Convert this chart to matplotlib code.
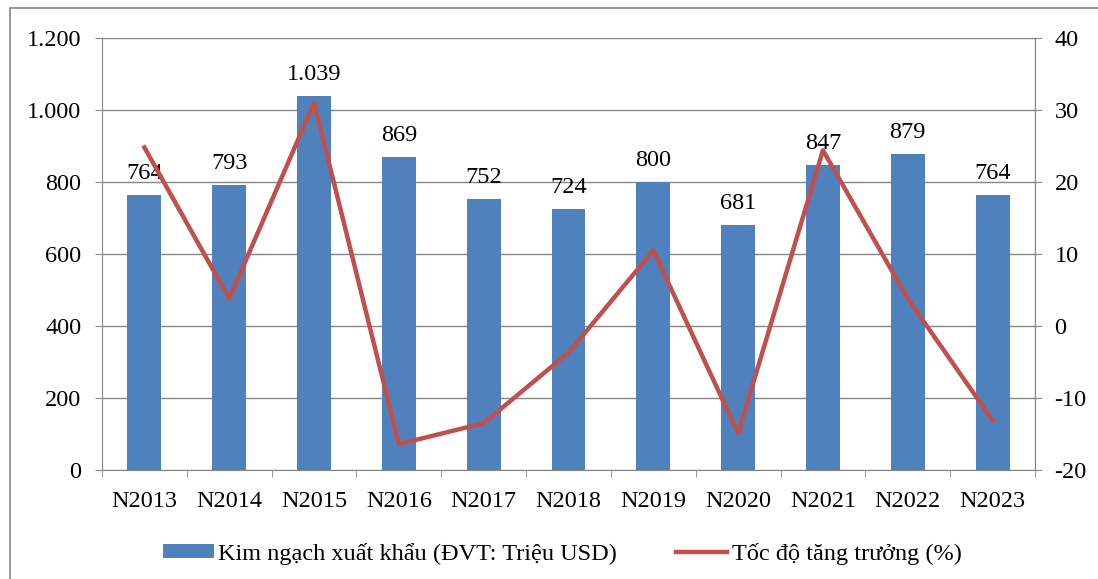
import matplotlib.pyplot as plt
from matplotlib.patches import Rectangle
from matplotlib.ticker import FuncFormatter

plt.rcParams['font.family'] = ['Liberation Serif', 'DejaVu Serif']
plt.rcParams['axes.unicode_minus'] = False

# du lieu
nam = ['N2013', 'N2014', 'N2015', 'N2016', 'N2017', 'N2018',
       'N2019', 'N2020', 'N2021', 'N2022', 'N2023']
kim_ngach = [764, 793, 1039, 869, 752, 724, 800, 681, 847, 879, 764]
tang_truong = [24.8, 3.8, 31.0, -16.4, -13.5, -3.7, 10.5, -14.9, 24.4, 3.8, -13.1]

xanh = '#4F81BD'
do = '#C0504D'
xam = '#868686'
co_chu = 17.5

fig = plt.figure(figsize=(10.98, 5.79), dpi=100)
ax = fig.add_axes([102 / 1098, 1 - 470 / 579, (1035 - 102) / 1098, (470 - 38) / 579])

x = range(len(nam))
bars = ax.bar(x, kim_ngach, width=0.4, color=xanh, zorder=2,
              label='Kim ngạch xuất khẩu (ĐVT: Triệu USD)')
ax.set_xlim(-0.5, len(nam) - 0.5)
ax.set_ylim(0, 1200)
ax.set_yticks(range(0, 1201, 200))
ax.yaxis.set_major_formatter(FuncFormatter(lambda v, p: f'{int(v):,}'.replace(',', '.')))
ax.set_xticks(list(x))
ax.set_xticklabels(nam)
ax.set_xticks([i - 0.5 for i in range(len(nam) + 1)], minor=True)
ax.tick_params(axis='x', which='major', length=0, pad=15, labelsize=co_chu)
ax.tick_params(axis='x', which='minor', length=5, color=xam, direction='out')
ax.tick_params(axis='y', length=5, color=xam, labelsize=co_chu, pad=10)
ax.grid(axis='y', color=xam, linewidth=1, zorder=0)
ax.spines['top'].set_visible(False)
for s in ['left', 'right', 'bottom']:
    ax.spines[s].set_color(xam)

for i, v in enumerate(kim_ngach):
    ax.annotate(f'{v:,}'.replace(',', '.'), (i, v), xytext=(0, 11.5),
                textcoords='offset points', ha='center', va='baseline',
                fontsize=co_chu, zorder=3)

ax2 = ax.twinx()
ax2.set_ylim(-20, 40)
ax2.set_yticks(range(-20, 41, 10))
ax2.tick_params(axis='y', length=5, color=xam, labelsize=co_chu, pad=9)
for s in ['top', 'left', 'bottom']:
    ax2.spines[s].set_visible(False)
ax2.spines['right'].set_color(xam)
line, = ax2.plot(list(x), tang_truong, color=do, linewidth=3.2, zorder=4,
                 label='Tốc độ tăng trưởng (%)')

fig.legend([bars, line], [bars.get_label(), line.get_label()],
           loc='center', bbox_to_anchor=(562 / 1098, 1 - 554 / 579), ncol=2,
           frameon=False, fontsize=co_chu, handlelength=2.1, handleheight=0.5,
           columnspacing=2.4, handletextpad=0.2)

# khung ngoai
fig.patches.append(Rectangle((10 / 1098, -0.1), 1.2, 1 - 8 / 579 + 0.1,
                             transform=fig.transFigure, fill=False,
                             edgecolor=xam, linewidth=1.2))

fig.savefig('out.png', dpi=100)
